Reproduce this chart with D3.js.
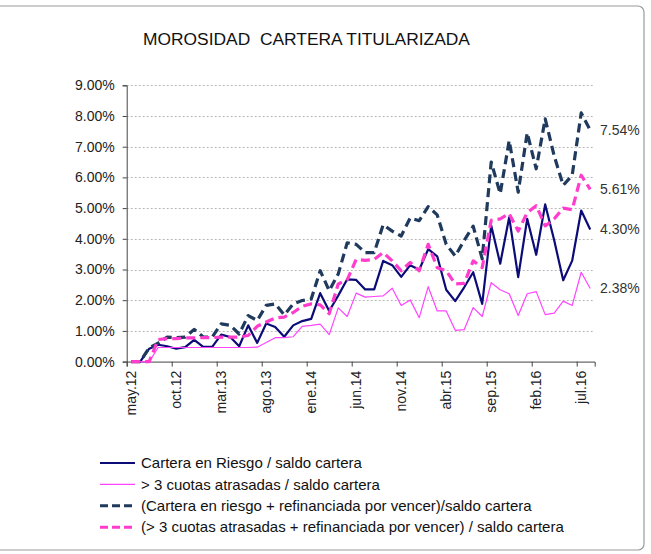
<!DOCTYPE html>
<html>
<head>
<meta charset="utf-8">
<script src="https://cdn.jsdelivr.net/npm/d3@7"></script>
<style>
  body { margin: 0; background: #fff; }
  svg text { font-family: "Liberation Sans", Arial, sans-serif; }
</style>
</head>
<body>
<svg id="chart" width="651" height="554"></svg>
<script>
// months may.12 .. ago.16
var meses = ["may.12","jun.12","jul.12","ago.12","sep.12","oct.12","nov.12","dic.12",
  "ene.13","feb.13","mar.13","abr.13","may.13","jun.13","jul.13","ago.13","sep.13","oct.13","nov.13","dic.13",
  "ene.14","feb.14","mar.14","abr.14","may.14","jun.14","jul.14","ago.14","sep.14","oct.14","nov.14","dic.14",
  "ene.15","feb.15","mar.15","abr.15","may.15","jun.15","jul.15","ago.15","sep.15","oct.15","nov.15","dic.15",
  "ene.16","feb.16","mar.16","abr.16","may.16","jun.16","jul.16","ago.16"];

var riesgo = [0, 0, 0.42, 0.55, 0.5, 0.42, 0.47, 0.71, 0.48, 0.48, 0.88, 0.8, 0.5, 1.18, 0.61, 1.24, 1.13, 0.81, 1.18, 1.32,
  1.39, 2.23, 1.65, 2.15, 2.68, 2.66, 2.35, 2.35, 3.28, 3.14, 2.76, 3.14, 2.99, 3.66, 3.43, 2.34, 1.97, 2.42, 2.91, 1.88,
  4.43, 3.19, 4.7, 2.75, 4.65, 3.48, 5.12, 3.95, 2.65, 3.29, 4.92, 4.30];

var cuotas = [0, 0, 0, 0.46, 0.46, 0.46, 0.46, 0.46, 0.46, 0.46, 0.46, 0.46, 0.46, 0.46, 0.47, 0.62, 0.78, 0.78, 0.81, 1.15,
  1.18, 1.22, 0.88, 1.75, 1.47, 2.23, 2.1, 2.12, 2.14, 2.39, 1.83, 2.01, 1.43, 2.44, 1.65, 1.65, 1.02, 1.04, 1.76, 1.47,
  2.57, 2.34, 2.21, 1.5, 2.21, 2.28, 1.53, 1.58, 1.97, 1.83, 2.91, 2.38];

var riesgoRefin = [0, 0, 0.45, 0.6, 0.8, 0.78, 0.8, 1.05, 0.8, 0.8, 1.23, 1.18, 0.9, 1.5, 1.34, 1.83, 1.88, 1.52, 1.88, 1.99,
  2.04, 2.96, 2.31, 2.85, 3.87, 3.82, 3.55, 3.55, 4.46, 4.25, 4.09, 4.68, 4.59, 5.05, 4.78, 3.82, 3.44, 3.95, 4.41, 3.35,
  6.5, 5.47, 7.2, 5.52, 7.45, 6.28, 7.91, 6.7, 5.74, 6.07, 8.1, 7.54];

var cuotasRefin = [0, 0, 0, 0.72, 0.75, 0.75, 0.77, 0.77, 0.78, 0.78, 0.8, 0.8, 0.8, 0.85, 1.15, 1.29, 1.42, 1.45, 1.6, 1.8,
  1.88, 1.85, 1.56, 2.53, 2.66, 3.33, 3.3, 3.33, 3.55, 3.28, 2.96, 3.23, 2.96, 3.82, 3.06, 2.96, 2.53, 2.55, 3.28, 3.06,
  4.6, 4.65, 4.82, 4.25, 4.85, 5.08, 4.42, 4.65, 5.0, 4.95, 6.07, 5.61];

var yTicks = [0, 1, 2, 3, 4, 5, 6, 7, 8, 9];

var series = [
  { name: "Cartera en Riesgo / saldo cartera", values: riesgo, color: "#0c0c78", width: 2.2, dash: null },
  { name: "> 3 cuotas atrasadas / saldo cartera", values: cuotas, color: "#ff44ff", width: 1.2, dash: null },
  { name: "(Cartera en riesgo + refinanciada por vencer)/saldo cartera", values: riesgoRefin, color: "#1f3a5c", width: 3.2, dash: "9,5" },
  { name: "(> 3 cuotas atrasadas + refinanciada por vencer) / saldo cartera", values: cuotasRefin, color: "#ff3ccc", width: 3.2, dash: "9,5" }
];

var fontFam = "'Liberation Sans', Arial, sans-serif";

var svg = d3.select("#chart");

svg.append("rect")
  .attr("x", -20).attr("y", 6)
  .attr("width", 664).attr("height", 544)
  .attr("rx", 6).attr("ry", 6)
  .style("fill", "#fff")
  .style("stroke", "#9a9a9a")
  .style("stroke-width", 1.2);

var plotLeft = 126.7, plotRight = 594.7, plotTop = 85.3, plotBottom = 361.6;

var x = d3.scaleLinear().domain([0, meses.length]).range([plotLeft, plotRight]);
var y = d3.scaleLinear().domain([0, 9]).range([plotBottom, plotTop]);

// title
svg.append("text")
  .attr("x", 143).attr("y", 45)
  .style("font-family", fontFam)
  .style("font-size", "17.4px")
  .style("white-space", "pre")
  .style("fill", "#111")
  .text("MOROSIDAD  CARTERA TITULARIZADA");

// grid
svg.append("g").selectAll("line")
  .data(yTicks.slice(1))
  .enter().append("line")
  .attr("x1", plotLeft).attr("x2", plotRight)
  .attr("y1", function(d){ return Math.round(y(d)) + 0.5; })
  .attr("y2", function(d){ return Math.round(y(d)) + 0.5; })
  .style("stroke", "#b8b8b8")
  .style("stroke-dasharray", "2,2")
  .style("stroke-width", 1);

// y axis
var yAxis = d3.axisLeft(y).tickValues(yTicks).tickSize(4).tickPadding(8)
  .tickFormat(function(d){ return d.toFixed(2) + "%"; });
var gy = svg.append("g").attr("transform", "translate(" + plotLeft + ",0)").call(yAxis);
gy.select(".domain").style("stroke", "#444");
gy.selectAll(".tick line").style("stroke", "#444");
gy.selectAll("text").style("font-size", "14px").style("fill", "#222")
  .style("font-family", fontFam);

// x axis
var xTickIdx = d3.range(0, meses.length, 5);
var xAxis = d3.axisBottom(x).tickValues(xTickIdx).tickSize(5).tickFormat("");
var gx = svg.append("g").attr("transform", "translate(0," + plotBottom + ")").call(xAxis);
gx.select(".domain").style("stroke", "#444");
gx.selectAll(".tick line").style("stroke", "#444");

svg.append("g").selectAll("text")
  .data(xTickIdx)
  .enter().append("text")
  .attr("transform", function(d){ return "translate(" + x(d + 0.5) + "," + (plotBottom + 9) + ") rotate(-90)"; })
  .attr("dy", "0.35em")
  .style("text-anchor", "end")
  .style("font-family", fontFam)
  .style("font-size", "14px")
  .style("fill", "#222")
  .text(function(d){ return meses[d]; });

// lines
var line = d3.line()
  .x(function(d, i){ return x(i + 0.5); })
  .y(function(d){ return y(d); });

svg.append("g").selectAll("path")
  .data(series)
  .enter().append("path")
  .attr("d", function(s){ return line(s.values); })
  .style("fill", "none")
  .style("stroke", function(s){ return s.color; })
  .style("stroke-width", function(s){ return s.width; })
  .style("stroke-dasharray", function(s){ return s.dash; })
  .style("stroke-linejoin", "round");

// end labels
svg.append("g").selectAll("text")
  .data(series)
  .enter().append("text")
  .attr("x", 600)
  .attr("y", function(s){ return y(s.values[s.values.length - 1]); })
  .attr("dy", "0.35em")
  .style("font-family", fontFam)
  .style("font-size", "14px")
  .style("fill", "#333")
  .text(function(s){ return s.values[s.values.length - 1].toFixed(2) + "%"; });

// legend
var legend = svg.append("g").selectAll(".legend")
  .data(series)
  .enter().append("g")
  .attr("class", "legend")
  .attr("transform", function(d, i){ return "translate(0," + (463 + i * 21.4) + ")"; });

legend.append("line")
  .attr("x1", 100).attr("x2", 135)
  .attr("y1", 0).attr("y2", 0)
  .style("stroke", function(s){ return s.color; })
  .style("stroke-width", function(s){ return s.dash ? 3 : (s.width > 1.5 ? 2 : 1.2); })
  .style("stroke-dasharray", function(s){ return s.dash ? "8,4" : null; });

legend.append("text")
  .attr("x", 141)
  .attr("dy", "0.35em")
  .style("font-family", fontFam)
  .style("font-size", "15px")
  .style("fill", "#111")
  .text(function(s){ return s.name; });
</script>
</body>
</html>
